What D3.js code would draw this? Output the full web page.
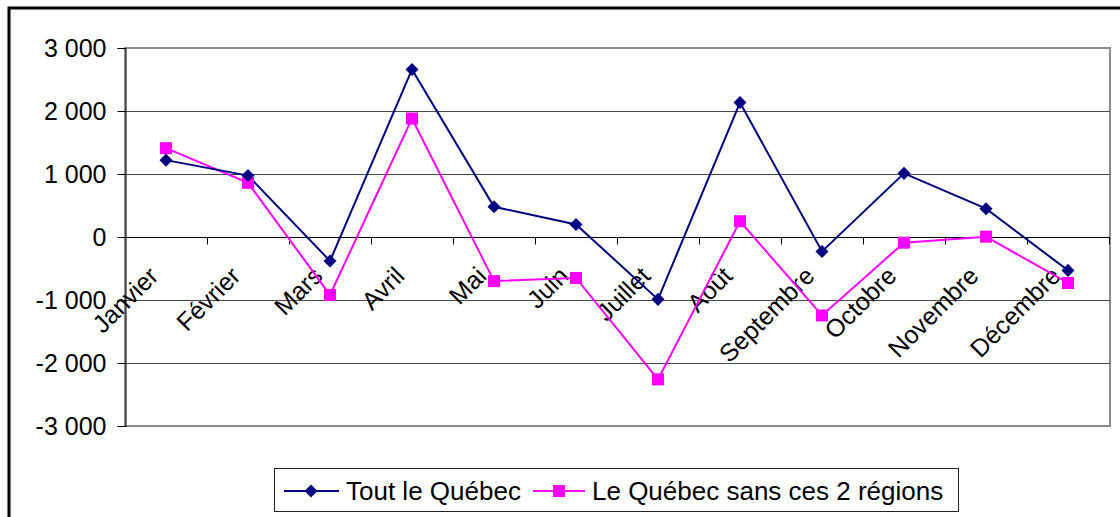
<!DOCTYPE html>
<html><head><meta charset="utf-8">
<script src="https://cdn.jsdelivr.net/npm/d3@7"></script>
<style>body{margin:0;background:#fff}svg{display:block}text{font-family:"Liberation Sans",Arial,sans-serif}</style>
</head><body><svg id="c" width="1120" height="517"></svg>
<script>
const categories = ["Janvier","Février","Mars","Avril","Mai","Juin","Juillet","Août","Septembre","Octobre","Novembre","Décembre"];
const toutQuebec = [1220, 975, -380, 2660, 480, 200, -990, 2135, -230, 1010, 450, -530];
const sansRegions = [1410, 860, -920, 1880, -700, -650, -2260, 250, -1245, -90, 5, -730];
const yTicks = [-3000,-2000,-1000,0,1000,2000,3000];
const seriesNames = ["Tout le Québec","Le Québec sans ces 2 régions"];

const svg = d3.select("#c");
const L=125, R=1109, T=48, B=426;
const x = d3.scaleBand().domain(categories).range([L,R]);
const y = d3.scaleLinear().domain([-3000,3000]).range([B,T]);
const fmt = v => { const s = d3.format(",")(Math.abs(v)).replace(/,/g," "); return (v<0?"-":"")+s; };

// outer frame
svg.append("rect").attr("x",9).attr("y",8).attr("width",1130).attr("height",530)
  .attr("fill","none").attr("stroke","#000").attr("stroke-width",3);

// plot area border
svg.append("rect").attr("x",L).attr("y",T).attr("width",R-L+1).attr("height",B-T)
  .attr("fill","none").attr("stroke","#8c8c8c").attr("stroke-width",2);

// gridlines
svg.append("g").selectAll("line").data(yTicks.filter(v=>v!==0 && Math.abs(v)<3000)).join("line")
  .attr("x1",L).attr("x2",R+1).attr("y1",d=>Math.round(y(d))+0.5).attr("y2",d=>Math.round(y(d))+0.5)
  .attr("stroke","#4a4a4a").attr("stroke-width",1);

// y axis
const ya = svg.append("g").attr("transform",`translate(${L+0.5},0)`)
  .call(d3.axisLeft(y).tickValues(yTicks).tickFormat(fmt).tickSize(8).tickPadding(11));
ya.select(".domain").attr("stroke","#000");
ya.selectAll(".tick line").attr("stroke","#000");
ya.selectAll("text").attr("font-size",25).attr("fill","#000").style("font-family","Liberation Sans, Arial, sans-serif");

// zero axis with ticks
const y0 = Math.round(y(0))+0.5;
svg.append("line").attr("x1",L).attr("x2",R+1).attr("y1",y0).attr("y2",y0).attr("stroke","#000");
const bounds = categories.map(c=>x(c)+x.bandwidth());
svg.append("g").selectAll("line").data(bounds).join("line")
  .attr("x1",d=>Math.round(d)+0.5).attr("x2",d=>Math.round(d)+0.5)
  .attr("y1",y0).attr("y2",y0+7).attr("stroke","#000");

// category labels
const cx = c => x(c)+x.bandwidth()/2;
svg.append("g").selectAll("text").data(categories).join("text")
  .attr("transform",c=>`translate(${cx(c)-6},${y0+40}) rotate(-45)`)
  .attr("text-anchor","end").attr("font-size",25).attr("fill","#000").text(c=>c);

// lines
const line = d3.line().x((d,i)=>cx(categories[i])).y(d=>y(d));
svg.append("path").datum(sansRegions).attr("d",line).attr("fill","none").attr("stroke","#ff00ff").attr("stroke-width",2);
svg.append("path").datum(toutQuebec).attr("d",line).attr("fill","none").attr("stroke","#000080").attr("stroke-width",2);

const diamond = d3.symbol().type(d3.symbolSquare).size(85);
// markers
svg.append("g").selectAll("rect").data(sansRegions).join("rect")
  .attr("x",(d,i)=>cx(categories[i])-6).attr("y",d=>y(d)-6).attr("width",12).attr("height",12).attr("fill","#ff00ff");
svg.append("g").selectAll("path").data(toutQuebec).join("path")
  .attr("transform",(d,i)=>`translate(${cx(categories[i])},${y(d)}) rotate(45)`)
  .attr("d",diamond).attr("fill","#000080");

// legend
const lg = svg.append("g");
lg.append("rect").attr("x",274.5).attr("y",468.5).attr("width",684).attr("height",43).attr("fill","#fff").attr("stroke","#222");
const ly = 491;
lg.append("line").attr("x1",284).attr("x2",339).attr("y1",ly).attr("y2",ly).attr("stroke","#000080").attr("stroke-width",2);
lg.append("path").attr("transform",`translate(311,${ly}) rotate(45)`).attr("d",diamond).attr("fill","#000080");
lg.append("text").attr("x",346).attr("y",ly+9).attr("font-size",26).text(seriesNames[0]);
lg.append("line").attr("x1",533).attr("x2",585).attr("y1",ly).attr("y2",ly).attr("stroke","#ff00ff").attr("stroke-width",2);
lg.append("rect").attr("x",553).attr("y",ly-6).attr("width",12).attr("height",12).attr("fill","#ff00ff");
lg.append("text").attr("x",592).attr("y",ly+9).attr("font-size",26).text(seriesNames[1]);
</script></body></html>
